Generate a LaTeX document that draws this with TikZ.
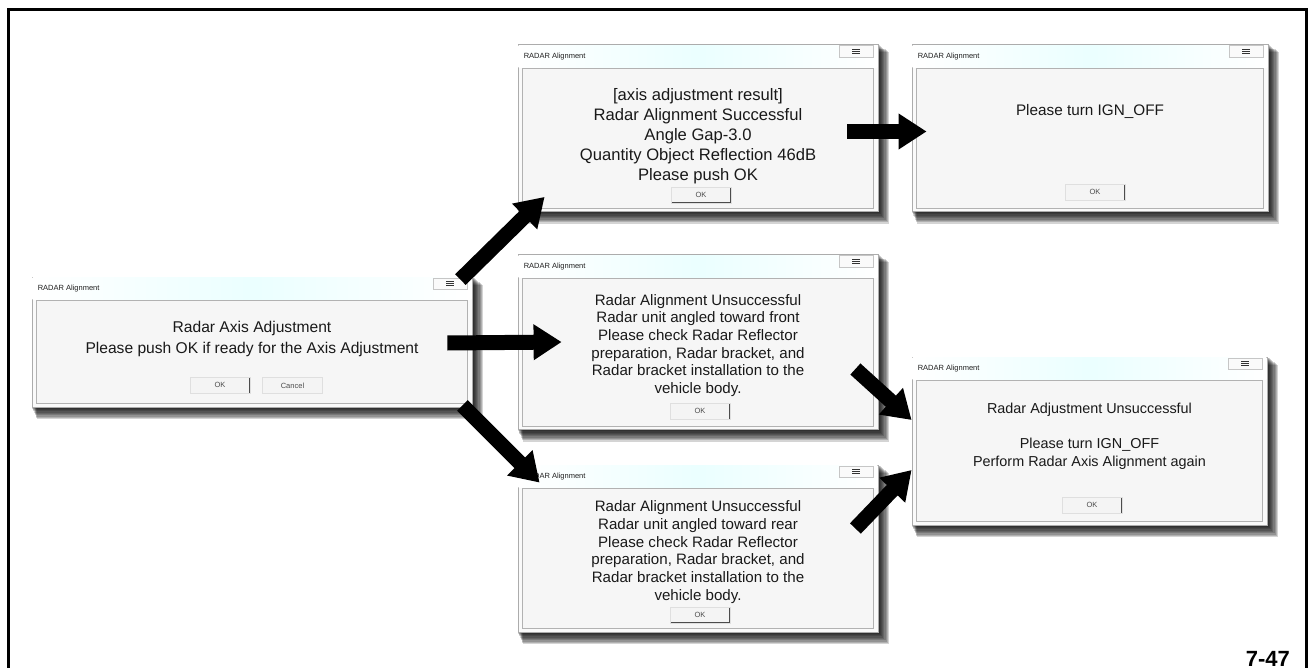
\documentclass[tikz,border=0pt]{standalone}
\usepackage{fontspec}
\setmainfont{Liberation Sans}
\usepackage{tikz}
\usetikzlibrary{calc}
\usetikzlibrary{positioning}
\usetikzlibrary{arrows.meta}
\usetikzlibrary{backgrounds}

\newcommand{\winchrome}[1]{%
  % title bar, client area, corner button
  \shade[left color=white, right color=white, middle color=cyan!8!white]
    ($(#1.north west)+(1,1)$) rectangle ($(#1.north east)+(-1,23)$);
  \draw[gray!60, fill=gray!7, line width=0.6pt]
    ($(#1.north west)+(5,24)$) rectangle ($(#1.south east)+(-5,-4)$);
  \draw[gray!45, fill=gray!4, line width=0.5pt]
    ($(#1.north east)+(-39,1.5)$) rectangle ($(#1.north east)+(-5,13)$);
  \foreach \d in {-2,0,2}
    \draw[gray!40!black, line width=0.6pt] ($(#1.north east)+(-26,7+\d)$) -- ++(8,0);
  \node[wintitle] (#1-title) at ($(#1.north west)+(6,12)$) {RADAR Alignment};
  % soft shadow
  \begin{pgfonlayer}{background}
    \foreach \n in {1,...,9}
      \fill[black, opacity=0.17] ($(#1.north west)+(0.6*\n,0.9*\n)$) rectangle ($(#1.south east)+(1.2*\n,1.3*\n)$);
  \end{pgfonlayer}
}

\begin{document}
\begin{tikzpicture}[x=1pt,y=-1pt,on grid,>={Triangle[width=34pt,length=28pt]},
		win/.style={rectangle,draw=gray!65,fill=gray!4,line width=0.8pt,inner sep=0pt},
		wintitle/.style={anchor=west,inner sep=0pt,text=gray!25!black,font=\fontsize{7.5}{8}\selectfont},
		msg/.style={align=center,inner sep=0pt,text=black!90},
		btn/.style={rectangle,fill=gray!9,draw=gray!25,line width=0.5pt,minimum width=60pt,minimum height=16pt,
			inner sep=0pt,text=gray!60!black,font=\fontsize{7.5}{8}\selectfont,
			path picture={\draw[gray!60!black,line width=1.6pt] (path picture bounding box.south west) -- (path picture bounding box.south east) -- (path picture bounding box.north east);}},
		fat/.style={->,black,line width=15pt}]
		\useasboundingbox (0,0) rectangle (1311,668);
		\draw[line width=3pt] (8.5,668) |- (1306,9.5) -- (1306,668);

		\node[win,minimum width=440pt,minimum height=130pt]   (start)   at (252,342)                      {};
		\node[win,minimum width=360pt,minimum height=175pt]   (front)   [right=446pt of start]            {};
		\node[win,minimum width=360pt,minimum height=167pt]   (success) [above=214pt of front]            {};
		\node[win,minimum width=360pt,minimum height=167pt]   (rear)    [below=206.5pt of front]          {};
		\node[win,minimum width=356pt,minimum height=167pt]   (ignoff)  [right=392pt of success]          {};
		\node[win,minimum width=355pt,minimum height=168pt]   (again)   [below right=99pt and 391.5pt of front] {};

		\winchrome{start}
		\winchrome{front}
		\winchrome{success}
		\winchrome{rear}
		\winchrome{ignoff}
		\winchrome{again}

		\node[msg,font=\fontsize{15.6}{21}\selectfont] (start-msg) at ($(start.center)+(0,-3)$)
			{Radar Axis Adjustment\\Please push OK if ready for the Axis Adjustment};
		\node[btn] (start-ok)     at ($(start.south)+(-32,-22)$)  {OK};
		\node[btn] (start-cancel) at ($(start.south)+(40.5,-22)$) {Cancel};

		\node[msg,font=\fontsize{16.6}{20}\selectfont] (success-msg) at ($(success.center)+(0,8.5)$)
			{[axis adjustment result]\\Radar Alignment Successful\\Angle Gap-3.0\\Quantity Object Reflection 46dB\\Please push OK};
		\node[btn] (success-ok) at ($(success.south)+(3,-17)$) {OK};

		\node[msg,font=\fontsize{15.3}{18}\selectfont] (ignoff-msg) at ($(ignoff.center)+(0,-16.5)$) {Please turn IGN\_OFF};
		\node[btn] (ignoff-ok) at ($(ignoff.south)+(5,-19.5)$) {OK};

		\node[msg,font=\fontsize{15.1}{17.7}\selectfont] (front-msg) at ($(front.center)+(0,3.5)$)
			{Radar Alignment Unsuccessful\\Radar unit angled toward front\\Please check Radar Reflector\\preparation, Radar bracket, and\\Radar bracket installation to the\\vehicle body.};
		\node[btn] (front-ok) at ($(front.south)+(2,-18.5)$) {OK};

		\node[msg,font=\fontsize{15.1}{17.7}\selectfont] (rear-msg) at ($(rear.center)+(0,3.5)$)
			{Radar Alignment Unsuccessful\\Radar unit angled toward rear\\Please check Radar Reflector\\preparation, Radar bracket, and\\Radar bracket installation to the\\vehicle body.};
		\node[btn] (rear-ok) at ($(rear.south)+(2,-17.5)$) {OK};

		\node[msg,font=\fontsize{14.4}{18}\selectfont] (again-msg) at ($(again.center)+(0,-4.5)$)
			{Radar Adjustment Unsuccessful\\[17pt]Please turn IGN\_OFF\\Perform Radar Axis Alignment again};
		\node[btn] (again-ok) at ($(again.south)+(2.5,-20)$) {OK};

		\node[anchor=base east,inner sep=0pt,font=\bfseries\fontsize{22}{24}\selectfont] (pagenum) at (1290,666) {7-47};

		\path[fat]
		($(start.north east)+(-12,3)$)  edge ($(success.south west)+(27,-15)$)
		($(start.east)+(-25,1)$)        edge ($(front.west)+(44,0)$)
		($(start.south east)+(-10,-2)$) edge ($(rear.north west)+(22,18)$)
		($(success.east)+(-31,3.5)$)    edge ($(ignoff.west)+(15,3.5)$)
		($(front.east)+(-23,27)$)       edge ($(again.west)+(0,-21)$)
		($(rear.east)+(-23,-20)$)       edge ($(again.west)+(0,29)$);
\end{tikzpicture}
\end{document}
